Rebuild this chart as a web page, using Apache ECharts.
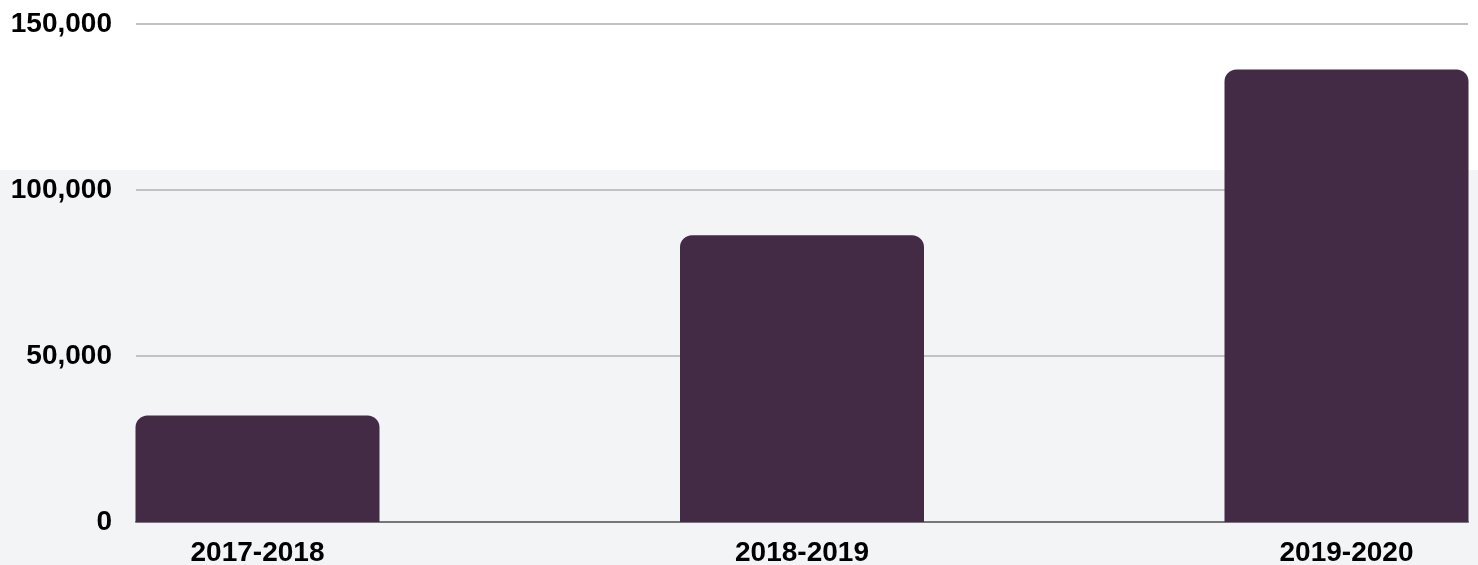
<!DOCTYPE html>
<html>
<head>
<meta charset="utf-8">
<script src="https://cdn.jsdelivr.net/npm/echarts@6/dist/echarts.min.js"></script>
<style>
html,body{margin:0;padding:0;background:#fff;}
#chart{width:1478px;height:565px;}
</style>
</head>
<body>
<div id="chart"></div>
<script>
const categories = ['2017-2018', '2018-2019', '2019-2020'];
const values = [32100, 86400, 136300];
const yTicks = [0, 50000, 100000, 150000];

const font = "'Liberation Sans', Arial, sans-serif";
const chart = echarts.init(document.getElementById('chart'));
chart.setOption({
  animation: false,
  graphic: [{
    type: 'rect', z: -100, silent: true,
    shape: { x: 0, y: 170, width: 1478, height: 400 },
    style: { fill: '#f3f4f6' }
  }],
  grid: [
    { left: 136, right: 10, top: 24, bottom: 43, containLabel: false, outerBoundsMode: 'none' },
    { left: 257.5, right: 131.5, top: 24, bottom: 43, containLabel: false, outerBoundsMode: 'none' }
  ],
  xAxis: [
    { gridIndex: 0, type: 'value', min: 0, max: 1, show: true,
      axisLine: { show: true, onZero: false, lineStyle: { color: '#767676', width: 2 } },
      axisTick: { show: false }, axisLabel: { show: false }, splitLine: { show: false } },
    { gridIndex: 1, type: 'category', data: categories, boundaryGap: false,
      axisLine: { show: false }, axisTick: { show: false },
      axisLabel: { color: '#000', fontSize: 28, fontWeight: 'bold', fontFamily: font, margin: 17 } }
  ],
  yAxis: [
    { gridIndex: 0, type: 'value', min: yTicks[0], max: yTicks[yTicks.length - 1], interval: 50000,
      axisLine: { show: false }, axisTick: { show: false },
      axisLabel: { color: '#000', fontSize: 28, fontWeight: 'bold', fontFamily: font, margin: 24,
        formatter: v => v.toLocaleString('en-US') },
      splitLine: { show: true, lineStyle: { color: '#c2c2c2', width: 2 } } },
    { gridIndex: 1, type: 'value', min: yTicks[0], max: yTicks[yTicks.length - 1], show: false,
      splitLine: { show: false } }
  ],
  series: [{
    type: 'bar', xAxisIndex: 1, yAxisIndex: 1, data: values, barWidth: 244, clip: false,
    itemStyle: { color: '#432a45', borderRadius: [12, 12, 0, 0] }
  }]
});
</script>
</body>
</html>
